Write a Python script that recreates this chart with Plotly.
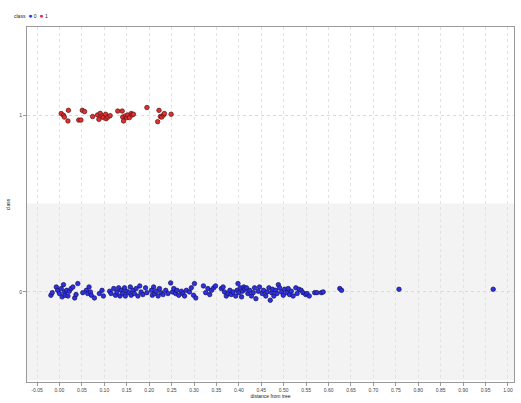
import plotly.graph_objects as go

# ---- data ----
tick_vals = [round(-0.05 + 0.05 * i, 2) for i in range(22)]
tick_text = ["%.2f" % v for v in tick_vals]
class_labels = ["0", "1"]

# class 1 (red): distance and vertical jitter
red_x = [0.004, 0.009, 0.011, 0.020, 0.019, 0.043, 0.048, 0.051, 0.056, 0.074,
         0.085, 0.088, 0.091, 0.095, 0.098, 0.103, 0.104, 0.108, 0.113, 0.130,
         0.140, 0.141, 0.143, 0.147, 0.150, 0.152, 0.156, 0.160, 0.162, 0.165,
         0.195, 0.222, 0.225, 0.228, 0.232, 0.234, 0.219, 0.249]
red_j = [0.010, 0.000, -0.010, 0.028, -0.032, -0.027, -0.027, 0.028, 0.021, -0.007,
         0.002, -0.023, 0.011, -0.004, -0.013, 0.006, -0.019, -0.010, -0.002, 0.024,
         0.024, -0.010, -0.032, -0.004, -0.013, 0.002, -0.013, 0.010, 0.002, 0.006,
         0.044, 0.028, -0.007, -0.010, 0.002, 0.010, -0.036, 0.006]

# class 0 (blue): distance and vertical jitter
blue_x = [-0.019, -0.016, -0.007, -0.004, 0.000, 0.004, 0.006, 0.009, 0.011, 0.013,
          0.016, 0.019, 0.022, 0.026, 0.030, 0.034, 0.037, 0.041, 0.052, 0.060,
          0.063, 0.066, 0.069, 0.071, 0.078, 0.089, 0.095, 0.098, 0.112, 0.115,
          0.121, 0.125, 0.128, 0.132, 0.135, 0.138, 0.141, 0.145, 0.147, 0.150,
          0.155, 0.158, 0.160, 0.164, 0.167, 0.171, 0.175, 0.179, 0.182, 0.186,
          0.192, 0.195, 0.205, 0.207, 0.210, 0.212, 0.216, 0.220, 0.223, 0.227,
          0.231, 0.237, 0.242, 0.248, 0.252, 0.255, 0.259, 0.262, 0.266, 0.272,
          0.275, 0.279, 0.283, 0.290, 0.294, 0.299, 0.301, 0.304,
          0.321, 0.326, 0.331, 0.335, 0.339, 0.344, 0.348, 0.361, 0.365, 0.368,
          0.372, 0.376, 0.380, 0.383, 0.387, 0.393, 0.396, 0.398, 0.400, 0.403,
          0.406, 0.408, 0.411, 0.413, 0.417, 0.420, 0.424, 0.428, 0.432, 0.435,
          0.438, 0.443, 0.446, 0.452, 0.455, 0.460, 0.463, 0.467, 0.470, 0.473,
          0.475, 0.478, 0.482, 0.485, 0.488, 0.491, 0.495, 0.499, 0.502, 0.507,
          0.510, 0.513, 0.517, 0.521, 0.527, 0.530, 0.534, 0.539, 0.543, 0.549,
          0.552, 0.557, 0.569, 0.574, 0.584, 0.588, 0.625, 0.629, 0.757, 0.967]
blue_j = [-0.019, -0.004, 0.028, 0.009, -0.009, 0.019, -0.028, 0.041, 0.000, -0.019,
          0.009, -0.023, 0.004, 0.019, 0.028, -0.034, -0.015, 0.047, -0.004, 0.009,
          -0.009, 0.028, 0.000, -0.019, -0.034, -0.009, 0.009, -0.023, 0.004, -0.009,
          0.019, -0.019, 0.000, 0.023, -0.023, 0.009, -0.009, 0.023, -0.023, 0.004,
          -0.004, 0.028, -0.019, 0.009, -0.009, 0.019, -0.023, 0.034, 0.000, -0.015,
          0.023, -0.004, 0.009, -0.019, 0.028, -0.009, 0.004, -0.023, 0.019, -0.004,
          -0.015, 0.009, -0.009, 0.051, 0.000, 0.019, -0.009, 0.009, -0.019, 0.004,
          -0.009, -0.023, 0.009, 0.000, 0.023, -0.019, 0.047, -0.034,
          0.034, -0.004, 0.019, -0.015, 0.009, 0.023, 0.034, 0.019, 0.028, 0.000,
          -0.023, -0.009, 0.009, -0.015, 0.000, -0.023, 0.009, 0.047, -0.004, 0.023,
          -0.028, 0.004, 0.028, 0.015, 0.023, -0.009, 0.009, -0.023, -0.004, 0.023,
          -0.038, 0.004, 0.028, -0.009, 0.009, -0.023, 0.000, 0.023, -0.047, -0.004,
          0.015, -0.023, 0.009, -0.009, 0.041, 0.023, 0.000, -0.019, 0.015, -0.004,
          0.019, -0.015, 0.004, -0.023, 0.023, -0.009, 0.015, 0.009, -0.004, -0.015,
          -0.009, -0.023, -0.004, -0.004, -0.004, 0.000, 0.019, 0.009, 0.015, 0.015]

FONT = "Liberation Sans, Arial, sans-serif"

fig = go.Figure()
fig.add_trace(go.Scatter(
    x=blue_x, y=[0 + j for j in blue_j], mode="markers", name="0",
    marker=dict(size=4.5, color="#2f2fe6", line=dict(width=0.7, color="#14145a")),
    showlegend=False))
fig.add_trace(go.Scatter(
    x=red_x, y=[1 + j for j in red_j], mode="markers", name="1",
    marker=dict(size=4.5, color="#e23030", line=dict(width=0.7, color="#561414")),
    showlegend=False))

# shaded band behind class 0
fig.add_shape(type="rect", xref="paper", yref="y", x0=0, x1=1, y0=-0.5, y1=0.5,
              fillcolor="#f3f3f3", line=dict(width=0), layer="below")

fig.update_layout(
    width=521, height=403,
    margin=dict(l=27, r=7, t=27, b=21, autoexpand=False),
    paper_bgcolor="white", plot_bgcolor="white",
    font=dict(family=FONT, size=5, color="#444"),
    xaxis=dict(
        range=[-0.0723, 1.0134], tickvals=tick_vals, ticktext=tick_text,
        automargin=False,
        showgrid=True, gridcolor="#e2e2e2", griddash="dot", gridwidth=1,
        zeroline=False, showline=True, linecolor="#999", linewidth=1, mirror=True,
        ticks="outside", ticklen=3, tickcolor="#999",
        tickfont=dict(size=5, color="#444"),
        title=dict(text="distance from tree", font=dict(size=5, color="#222"), standoff=2),
    ),
    yaxis=dict(
        range=[-0.51, 1.5], tickvals=[0, 1], ticktext=class_labels,
        automargin=False,
        showgrid=True, gridcolor="#dadada", griddash="dot", gridwidth=1,
        zeroline=False, showline=True, linecolor="#999", linewidth=1, mirror=True,
        ticks="outside", ticklen=3, tickcolor="#999",
        tickfont=dict(size=5, color="#444"),
        title=dict(text="class", font=dict(size=5, color="#222"), standoff=8),
    ),
)

fig.add_annotation(
    xref="paper", yref="paper", x=-0.031, y=1.031, xanchor="left", yanchor="middle",
    showarrow=False, font=dict(size=5, color="#222", family=FONT),
    text="class  <span style='color:#2f2fe6;font-size:7px'>●</span> 0  "
         "<span style='color:#e23030;font-size:7px'>●</span> 1")

fig.write_html("out.html",
               config={"displayModeBar": False},
               post_script="document.body.style.margin='0';"
                           "document.body.style.overflow='hidden';")
